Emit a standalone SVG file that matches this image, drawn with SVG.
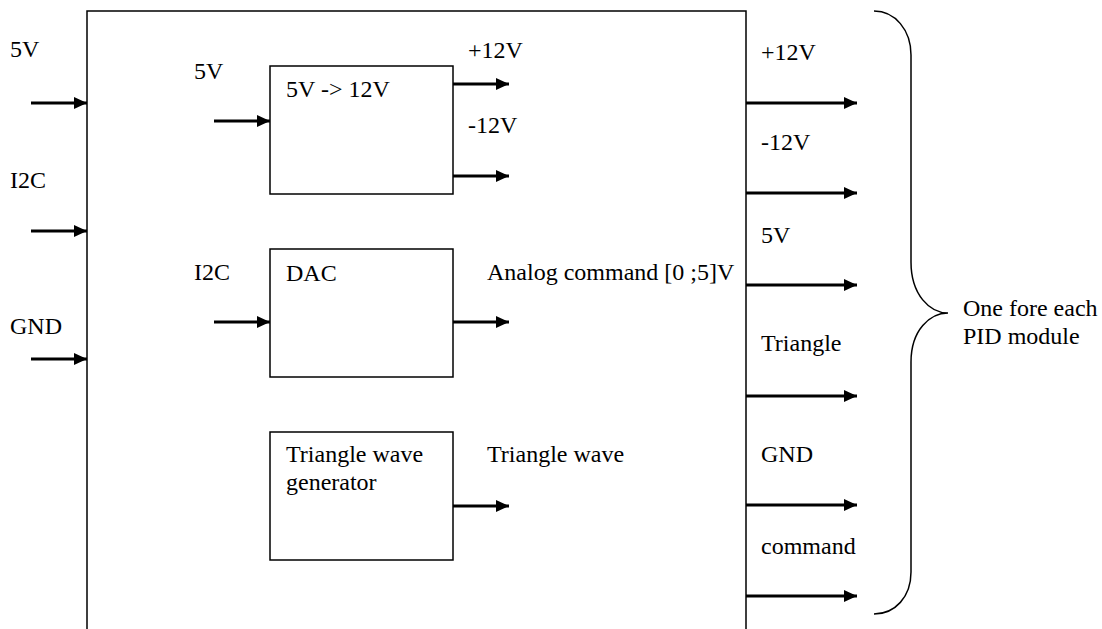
<svg xmlns="http://www.w3.org/2000/svg" width="1102" height="629" viewBox="0 0 1102 629">
<defs>
<style>
text{font-family:"Liberation Serif","Times New Roman",serif;font-size:24px;fill:#000}
.box{fill:#fff;stroke:#000;stroke-width:1.5}
.arr{stroke:#000;stroke-width:3;fill:none;marker-end:url(#ah)}
.brace{fill:none;stroke:#000;stroke-width:1.5}
</style>
<marker id="ah" viewBox="0 0 13 12" refX="13" refY="6" markerUnits="userSpaceOnUse" markerWidth="13" markerHeight="12" orient="auto">
<path d="M0,0 L13,6 L0,12 Z" fill="#000"/>
</marker>
</defs>
<rect width="1102" height="629" fill="#fff"/>
<g id="main">
<path class="box" d="M87,640 L87,11 L746,11 L746,640"/>
</g>
<g id="converter">
<rect class="box" x="270" y="66" width="183" height="128"/>
<text x="286" y="97">5V -&gt; 12V</text>
</g>
<g id="dac">
<rect class="box" x="270" y="249" width="183" height="128"/>
<text x="286" y="281">DAC</text>
</g>
<g id="triangle-gen">
<rect class="box" x="270" y="432" width="183" height="128"/>
<text x="286" y="462">Triangle wave</text>
<text x="286" y="490">generator</text>
</g>
<g id="connectors">
<line class="arr" x1="31" y1="103" x2="87" y2="103"/>
<line class="arr" x1="31" y1="231" x2="87" y2="231"/>
<line class="arr" x1="31" y1="359" x2="87" y2="359"/>
<line class="arr" x1="214" y1="121" x2="270" y2="121"/>
<line class="arr" x1="453" y1="84" x2="509" y2="84"/>
<line class="arr" x1="453" y1="176" x2="509" y2="176"/>
<line class="arr" x1="214" y1="322" x2="270" y2="322"/>
<line class="arr" x1="453" y1="322" x2="509" y2="322"/>
<line class="arr" x1="453" y1="506" x2="509" y2="506"/>
<line class="arr" x1="746" y1="103" x2="857" y2="103"/>
<line class="arr" x1="746" y1="193" x2="857" y2="193"/>
<line class="arr" x1="746" y1="285" x2="857" y2="285"/>
<line class="arr" x1="746" y1="396" x2="857" y2="396"/>
<line class="arr" x1="746" y1="505" x2="857" y2="505"/>
<line class="arr" x1="746" y1="596" x2="857" y2="596"/>
</g>
<g id="labels">
<text x="10" y="57">5V</text>
<text x="10" y="188">I2C</text>
<text x="10" y="334">GND</text>
<text x="194" y="79">5V</text>
<text x="194" y="280">I2C</text>
<text x="468" y="58">+12V</text>
<text x="468" y="133">-12V</text>
<text x="487" y="280">Analog command [0 ;5]V</text>
<text x="487" y="462">Triangle wave</text>
<text x="761" y="60">+12V</text>
<text x="761" y="150">-12V</text>
<text x="761" y="243">5V</text>
<text x="761" y="351">Triangle</text>
<text x="761" y="462">GND</text>
<text x="761" y="554">command</text>
</g>
<g id="brace">
<path class="brace" d="M874,11 C895,11 911,30 911,55 L911,262 C911,295 930,313 948,313 C930,313 911,330 911,362 L911,572 C911,597 895,614 874,614"/>
<text x="963" y="316">One fore each</text>
<text x="963" y="344">PID module</text>
</g>
</svg>
